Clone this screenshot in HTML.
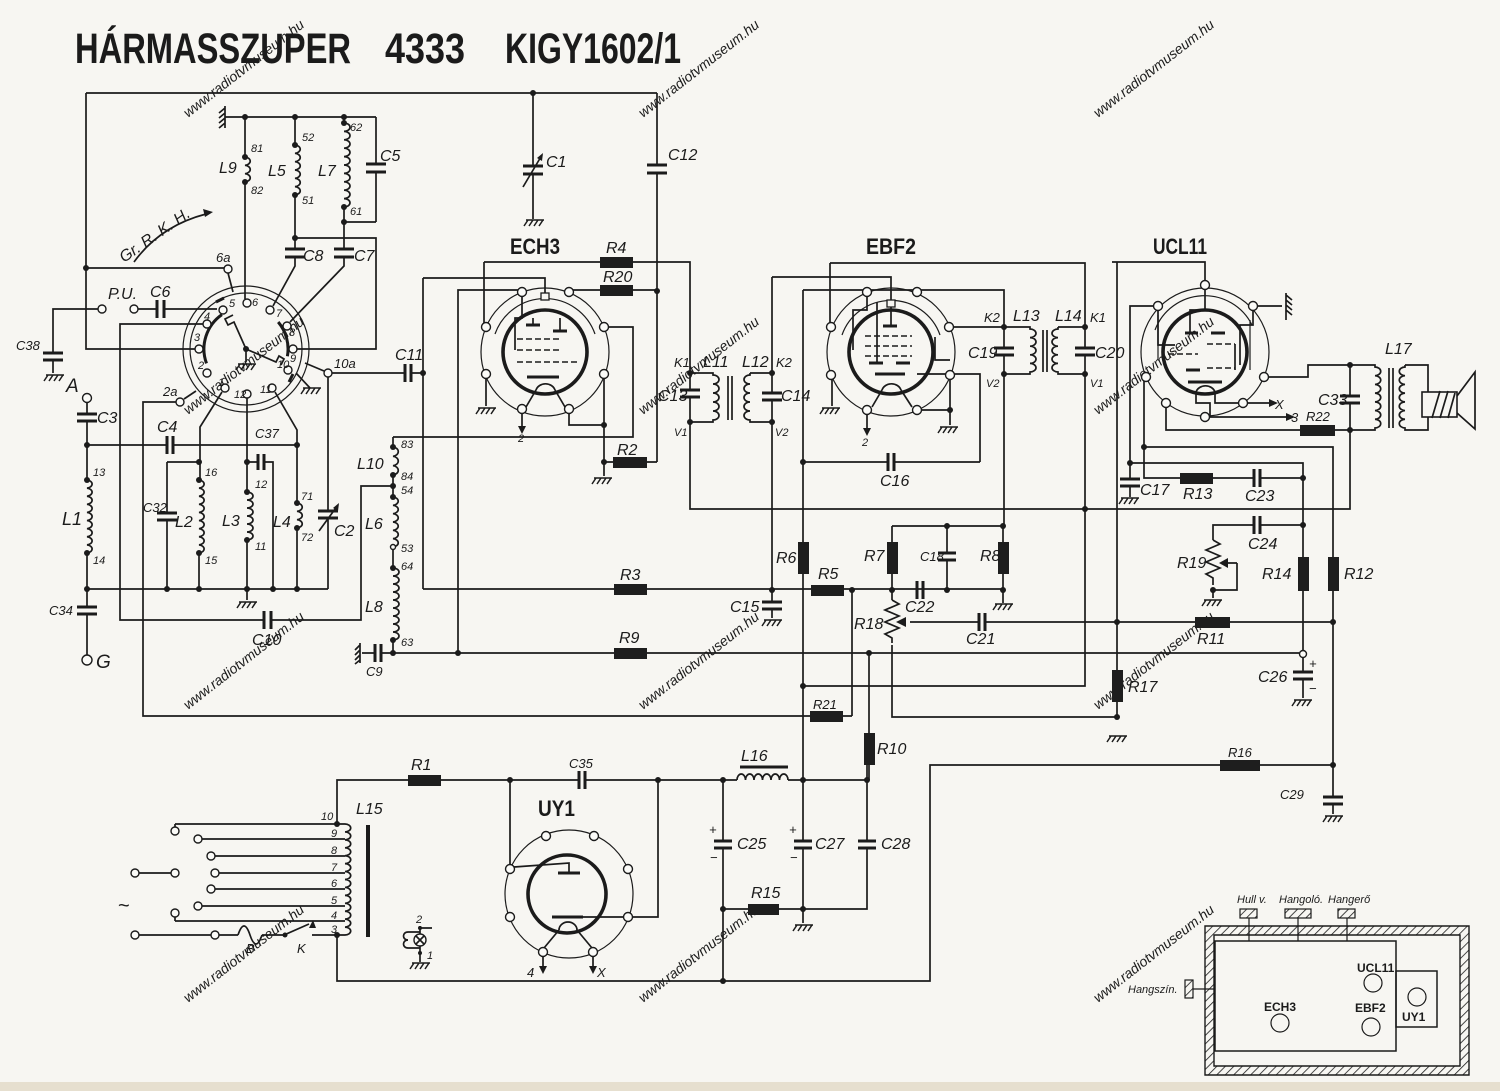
<!DOCTYPE html>
<html><head><meta charset="utf-8">
<style>
html,body{margin:0;padding:0;background:#f7f6f2}
svg{display:block}
.w{fill:none;stroke:#1b1b1b;stroke-width:1.7}
.p{fill:none;stroke:#1b1b1b;stroke-width:3}
.th{fill:none;stroke:#1b1b1b;stroke-width:1.2}
.env{fill:none;stroke:#1b1b1b;stroke-width:3.6}
.ds{fill:none;stroke:#1b1b1b;stroke-width:1.4;stroke-dasharray:6 3}
.d{fill:#1b1b1b}
.o{fill:#fbfbf8;stroke:#1b1b1b;stroke-width:1.4}
.r{fill:#1e1e1e}
text{font-family:"Liberation Sans",sans-serif;fill:#1b1b1b}
.l{font-style:italic;font-size:16px}
.m{font-style:italic;font-size:13px}
.s{font-style:italic;font-size:11px}
.tb{font-weight:bold;font-size:22px}
.wm{font-size:14px;fill:#e1e0dc;font-style:italic}
</style></head><body>
<svg width="1500" height="1091" viewBox="0 0 1500 1091" xmlns="http://www.w3.org/2000/svg">
<defs>
<path id="g" d="M-9,0H9M-7,0l-4,6M-2,0l-4,6M3,0l-4,6M8,0l-4,6" fill="none" stroke="#1b1b1b" stroke-width="1.5"/>
<pattern id="hatch" width="6" height="6" patternUnits="userSpaceOnUse" patternTransform="rotate(45)">
<rect width="6" height="6" fill="#f7f6f2"/><line x1="0" y1="0" x2="0" y2="6" stroke="#1b1b1b" stroke-width="1.6"/></pattern>
</defs>
<rect width="1500" height="1091" fill="#f7f6f2"/>
<rect y="1082" width="1500" height="9" fill="#e6dfcf"/>

<!-- watermarks -->
<g class="wm">
<text transform="translate(188,118) rotate(-38)">www.radiotvmuseum.hu</text>
<text transform="translate(643,118) rotate(-38)">www.radiotvmuseum.hu</text>
<text transform="translate(1098,118) rotate(-38)">www.radiotvmuseum.hu</text>
<text transform="translate(188,415) rotate(-38)">www.radiotvmuseum.hu</text>
<text transform="translate(643,415) rotate(-38)">www.radiotvmuseum.hu</text>
<text transform="translate(1098,415) rotate(-38)">www.radiotvmuseum.hu</text>
<text transform="translate(188,710) rotate(-38)">www.radiotvmuseum.hu</text>
<text transform="translate(643,710) rotate(-38)">www.radiotvmuseum.hu</text>
<text transform="translate(1098,710) rotate(-38)">www.radiotvmuseum.hu</text>
<text transform="translate(188,1003) rotate(-38)">www.radiotvmuseum.hu</text>
<text transform="translate(643,1003) rotate(-38)">www.radiotvmuseum.hu</text>
<text transform="translate(1098,1003) rotate(-38)">www.radiotvmuseum.hu</text>
</g>

<!-- title -->
<text x="75" y="63" font-size="43" font-weight="bold" textLength="276" lengthAdjust="spacingAndGlyphs">HÁRMASSZUPER</text>
<text x="385" y="63" font-size="43" font-weight="bold" textLength="80" lengthAdjust="spacingAndGlyphs">4333</text>
<text x="505" y="63" font-size="43" font-weight="bold" textLength="176" lengthAdjust="spacingAndGlyphs">KIGY1602/1</text>

<!-- ===== top frame & RF coils ===== -->
<path class="w" d="M86,93H657M86,93V349H195M86,268H224"/>
<circle class="d" cx="86" cy="268" r="3"/>
<circle class="d" cx="533" cy="93" r="3"/>
<!-- C1 -->
<path class="w" d="M533,93V166M533,174V219M523,187L542,155"/>
<path class="p" d="M523,166H543M523,174H543"/>
<path class="d" d="M543,153l-1,8l-5,-3z"/>
<use href="#g" x="535" y="220"/>
<text class="l" x="546" y="167">C1</text>
<!-- C12 -->
<path class="w" d="M657,93V165M657,173V462"/>
<path class="p" d="M647,165H667M647,173H667"/>
<text class="l" x="668" y="160">C12</text>
<circle class="d" cx="657" cy="291" r="3"/>
<!-- ground rail -->
<path class="w" d="M225,117H376M225,106V128M225,108l-6,5M225,113l-6,5M225,118l-6,5M225,123l-6,5"/>
<circle class="d" cx="245" cy="117" r="3"/><circle class="d" cx="295" cy="117" r="3"/><circle class="d" cx="344" cy="117" r="3"/>
<!-- L9 -->
<path class="w" d="M245,117V157a6,4.2 0 0 1 0,8.33a6,4.2 0 0 1 0,8.33a6,4.2 0 0 1 0,8.33V299"/>
<circle class="d" cx="245" cy="157" r="3"/><circle class="d" cx="245" cy="182" r="3"/>
<text class="l" x="219" y="173">L9</text><text class="s" x="251" y="152">81</text><text class="s" x="251" y="194">82</text>
<!-- L5 -->
<path class="w" d="M295,117V145a6,4.2 0 0 1 0,8.33a6,4.2 0 0 1 0,8.33a6,4.2 0 0 1 0,8.33a6,4.2 0 0 1 0,8.33a6,4.2 0 0 1 0,8.33a6,4.2 0 0 1 0,8.33V249M295,257V266L273,306"/>
<path class="p" d="M285,249H305M285,257H305"/>
<circle class="d" cx="295" cy="145" r="3"/><circle class="d" cx="295" cy="195" r="3"/>
<text class="l" x="268" y="176">L5</text><text class="s" x="302" y="141">52</text><text class="s" x="302" y="204">51</text>
<text class="l" x="303" y="261">C8</text>
<!-- L7 -->
<path class="w" d="M344,117V123a6,4.2 0 0 1 0,8.4a6,4.2 0 0 1 0,8.4a6,4.2 0 0 1 0,8.4a6,4.2 0 0 1 0,8.4a6,4.2 0 0 1 0,8.4a6,4.2 0 0 1 0,8.4a6,4.2 0 0 1 0,8.4a6,4.2 0 0 1 0,8.4a6,4.2 0 0 1 0,8.4a6,4.2 0 0 1 0,8.4V249M344,222H376M376,117V164M376,172V222M344,257V266L290,322"/>
<path class="p" d="M334,249H354M334,257H354M366,164H386M366,172H386"/>
<circle class="d" cx="344" cy="123" r="3"/><circle class="d" cx="344" cy="207" r="3"/><circle class="d" cx="344" cy="222" r="3"/>
<text class="l" x="318" y="176">L7</text><text class="s" x="350" y="131">62</text><text class="s" x="350" y="215">61</text>
<text class="l" x="380" y="161">C5</text><text class="l" x="354" y="261">C7</text>
<path class="w" d="M295,238H376V349H297"/>
<circle class="d" cx="295" cy="238" r="3"/>
<!-- Gr.R.K.H. -->
<path class="w" d="M134,262Q160,226 206,214"/>
<path class="d" d="M213,212l-10,-3l2,8z"/>
<text class="l" transform="translate(124,263) rotate(-35)">Gr. R. K. H.</text>

<!-- ===== wave switch ===== -->
<circle class="th" cx="246" cy="349" r="63"/>
<circle class="th" cx="246" cy="349" r="56"/>
<path class="p" d="M206.5,363.4A42,42 0 0 1 221.9,314.6M278.2,322A42,42 0 0 1 287.4,356.3"/>
<path class="w" d="M246,349L234,322l-6,3l-3,-6l8,-4M246,349L276,362l3,-6l5,3l-3,6M228,273L233,292M184,399L196,391M324,371L305,363"/>
<path class="p" d="M216,302l8,-4M293,374l-4,8"/>
<circle class="d" cx="246" cy="349" r="3"/>
<path class="w" d="M246,349V362"/><use href="#g" x="247" y="364"/>
<use href="#g" x="312" y="388"/><path class="w" d="M296,373L310,388"/>
<circle class="o" cx="223" cy="310" r="4"/><circle class="o" cx="247" cy="303" r="4"/><circle class="o" cx="270" cy="310" r="4"/>
<circle class="o" cx="287" cy="326" r="4"/><circle class="o" cx="293" cy="349" r="4"/><circle class="o" cx="288" cy="370" r="4"/>
<circle class="o" cx="272" cy="388" r="4"/><circle class="o" cx="247" cy="394" r="4"/><circle class="o" cx="225" cy="388" r="4"/>
<circle class="o" cx="207" cy="373" r="4"/><circle class="o" cx="199" cy="349" r="4"/><circle class="o" cx="207" cy="324" r="4"/>
<circle class="o" cx="228" cy="269" r="4"/><circle class="o" cx="180" cy="402" r="4"/><circle class="o" cx="328" cy="373" r="4"/>
<g class="s"><text x="229" y="307">5</text><text x="252" y="306">6</text><text x="276" y="317">7</text><text x="289" y="336">8</text>
<text x="290" y="362">9</text><text x="277" y="368">10</text><text x="260" y="393">11</text><text x="234" y="398">12</text>
<text x="218" y="386">1</text><text x="198" y="369">2</text><text x="194" y="341">3</text><text x="204" y="320">4</text></g>
<text class="m" x="216" y="262">6a</text><text class="m" x="163" y="396">2a</text><text class="m" x="334" y="368">10a</text>
<!-- P.U. / C6 / C38 -->
<circle class="o" cx="102" cy="309" r="4"/><circle class="o" cx="134" cy="309" r="4"/>
<path class="w" d="M138,309H157M164,309H217M98,309H53V353M53,360V373"/>
<path class="p" d="M157,300V318M164,300V318M43,353H63M43,360H63"/>
<use href="#g" x="55" y="375"/>
<text class="l" x="108" y="299">P.U.</text><text class="l" x="150" y="297">C6</text><text class="m" x="16" y="350">C38</text>
<!-- pin wiring -->
<path class="w" d="M203,324H120V620H264M271,620H361V486H393M176,402H143V716H810M222,392L200,427V480M247,398V492M275,392L297,430V503"/>
<path class="p" d="M264,611V629M271,611V629"/>
<text class="l" x="252" y="645">C10</text>

<!-- ===== tuning section ===== -->
<circle class="o" cx="87" cy="398" r="4.5"/>
<path class="w" d="M87,402V414M87,421V480a6,4.1 0 0 1 0,8.11a6,4.1 0 0 1 0,8.11a6,4.1 0 0 1 0,8.11a6,4.1 0 0 1 0,8.11a6,4.1 0 0 1 0,8.11a6,4.1 0 0 1 0,8.11a6,4.1 0 0 1 0,8.11a6,4.1 0 0 1 0,8.11a6,4.1 0 0 1 0,8.11V607M87,614V655"/>
<path class="p" d="M77,414H97M77,421H97M77,607H97M77,614H97"/>
<circle class="o" cx="87" cy="660" r="5"/>
<circle class="d" cx="87" cy="480" r="3"/><circle class="d" cx="87" cy="553" r="3"/>
<path class="w" d="M87,445H167M173,445H297M87,589H328"/>
<path class="p" d="M167,436V454M173,436V454"/>
<circle class="d" cx="87" cy="445" r="3"/><circle class="d" cx="297" cy="445" r="3"/>
<!-- L2 / C32 -->
<path class="w" d="M199,480a6,4.1 0 0 1 0,8.11a6,4.1 0 0 1 0,8.11a6,4.1 0 0 1 0,8.11a6,4.1 0 0 1 0,8.11a6,4.1 0 0 1 0,8.11a6,4.1 0 0 1 0,8.11a6,4.1 0 0 1 0,8.11a6,4.1 0 0 1 0,8.11a6,4.1 0 0 1 0,8.11V589M167,462H199M167,462V513M167,520V589"/>
<path class="p" d="M157,513H177M157,520H177"/>
<circle class="d" cx="199" cy="462" r="3"/><circle class="d" cx="199" cy="480" r="3"/><circle class="d" cx="199" cy="553" r="3"/>
<!-- L3 / C37 -->
<path class="w" d="M247,492a6,4 0 0 1 0,8a6,4 0 0 1 0,8a6,4 0 0 1 0,8a6,4 0 0 1 0,8a6,4 0 0 1 0,8a6,4 0 0 1 0,8V600M247,462H258M264,462H273V589"/>
<path class="p" d="M258,454V470M264,454V470"/>
<circle class="d" cx="247" cy="462" r="3"/><circle class="d" cx="247" cy="492" r="3"/><circle class="d" cx="247" cy="540" r="3"/>
<use href="#g" x="248" y="602"/>
<!-- L4 -->
<path class="w" d="M297,503a6,4.2 0 0 1 0,8.33a6,4.2 0 0 1 0,8.33a6,4.2 0 0 1 0,8.33V589"/>
<circle class="d" cx="297" cy="503" r="3"/><circle class="d" cx="297" cy="528" r="3"/>
<!-- C2 -->
<path class="w" d="M328,377V511M328,518V589M319,531L338,505"/>
<path class="p" d="M318,511H338M318,518H338"/>
<path class="d" d="M339,503l-1,8l-5,-3z"/>
<g><circle class="d" cx="87" cy="589" r="3"/><circle class="d" cx="167" cy="589" r="3"/><circle class="d" cx="199" cy="589" r="3"/><circle class="d" cx="247" cy="589" r="3"/><circle class="d" cx="273" cy="589" r="3"/><circle class="d" cx="297" cy="589" r="3"/></g>
<text x="66" y="392" font-size="19" font-style="italic">A</text><text class="l" x="97" y="423">C3</text><text class="l" x="157" y="432">C4</text>
<text class="m" x="255" y="438">C37</text><text x="62" y="525" font-size="18" font-style="italic">L1</text><text class="s" x="93" y="476">13</text><text class="s" x="93" y="564">14</text>
<text class="m" x="143" y="512">C32</text><text class="l" x="175" y="527">L2</text><text class="s" x="205" y="476">16</text><text class="s" x="205" y="564">15</text>
<text class="l" x="222" y="526">L3</text><text class="s" x="255" y="488">12</text><text class="s" x="255" y="550">11</text>
<text class="l" x="273" y="527">L4</text><text class="s" x="301" y="500">71</text><text class="s" x="301" y="541">72</text>
<text class="l" x="334" y="536">C2</text><text class="m" x="49" y="615">C34</text><text x="96" y="668" font-size="19" font-style="italic">G</text>

<!-- ===== oscillator coil chain ===== -->
<path class="w" d="M393,437V447a6,4.7 0 0 1 0,9.33a6,4.7 0 0 1 0,9.33a6,4.7 0 0 1 0,9.33V497a6,4.2 0 0 1 0,8.33a6,4.2 0 0 1 0,8.33a6,4.2 0 0 1 0,8.33a6,4.2 0 0 1 0,8.33a6,4.2 0 0 1 0,8.33a6,4.2 0 0 1 0,8.33V568a6,4 0 0 1 0,8a6,4 0 0 1 0,8a6,4 0 0 1 0,8a6,4 0 0 1 0,8a6,4 0 0 1 0,8a6,4 0 0 1 0,8a6,4 0 0 1 0,8a6,4 0 0 1 0,8a6,4 0 0 1 0,8V653"/>
<path class="w" d="M393,437H633V327H608M393,653H381M375,653H362M360,643V663M360,645l-5,5M360,650l-5,5M360,655l-5,5M360,660l-5,4"/>
<path class="p" d="M381,644V662M375,644V662"/>
<g><circle class="d" cx="393" cy="447" r="3"/><circle class="d" cx="393" cy="475" r="3"/><circle class="d" cx="393" cy="486" r="3"/><circle class="d" cx="393" cy="497" r="3"/><circle class="o" cx="393" cy="547" r="2.5"/><circle class="d" cx="393" cy="568" r="3"/><circle class="d" cx="393" cy="640" r="3"/><circle class="d" cx="393" cy="653" r="3"/></g>
<text class="l" x="357" y="469">L10</text><text class="l" x="365" y="529">L6</text><text class="l" x="365" y="612">L8</text><text class="m" x="366" y="676">C9</text>
<g class="s"><text x="401" y="448">83</text><text x="401" y="480">84</text><text x="401" y="494">54</text><text x="401" y="552">53</text><text x="401" y="570">64</text><text x="401" y="646">63</text></g>

<!-- ===== C11 / ECH3 ===== -->
<path class="w" d="M332,373H405M411,373H423M423,278V589M423,278H545V293M423,589H614M647,589H1003M458,653V290H518M393,653H614M647,653H1299"/>
<path class="p" d="M405,364V382M411,364V382"/>
<circle class="d" cx="423" cy="373" r="3"/><circle class="d" cx="458" cy="653" r="3"/>
<rect class="r" x="614" y="584" width="33" height="11"/><rect class="r" x="614" y="648" width="33" height="11"/>
<text class="l" x="395" y="360">C11</text><text class="l" x="620" y="580">R3</text><text class="l" x="619" y="643">R9</text>
<!-- ECH3 tube -->
<circle class="th" cx="545" cy="352" r="64"/>
<circle class="env" cx="545" cy="352" r="42"/>
<path class="th" d="M495,334A53,53 0 0 1 595,334"/>
<path class="w" d="M526,407L536,390M565,407L555,390M536,390A10,9 0 0 1 555,390"/>
<path class="p" d="M526,325H540M553,331H567M527,377H559"/>
<path class="ds" d="M517,339H562M517,350H562M517,362H578"/>
<path class="w" d="M522,296V318H515V350M533,318V325M560,318V331"/>
<rect x="541" y="293" width="8" height="7" fill="#f7f6f2" stroke="#1b1b1b" stroke-width="1.3"/>
<path class="w" d="M484,262V323M484,262H600M633,262H690V373M573,290H600M633,290H657M486,378V406M569,413V425H604M604,378V462H613M647,462H657M604,462V476M522,413V428"/>
<path class="d" d="M518,426h8l-4,8z"/>
<rect class="r" x="600" y="257" width="33" height="11"/><rect class="r" x="600" y="285" width="33" height="11"/><rect class="r" x="613" y="457" width="34" height="11"/>
<circle class="d" cx="604" cy="425" r="3"/><circle class="d" cx="604" cy="462" r="3"/>
<use href="#g" x="487" y="408"/><use href="#g" x="603" y="478"/>
<g><circle class="o" cx="522" cy="292" r="4.5"/><circle class="o" cx="569" cy="292" r="4.5"/><circle class="o" cx="486" cy="327" r="4.5"/><circle class="o" cx="604" cy="327" r="4.5"/><circle class="o" cx="486" cy="374" r="4.5"/><circle class="o" cx="604" cy="374" r="4.5"/><circle class="o" cx="522" cy="409" r="4.5"/><circle class="o" cx="569" cy="409" r="4.5"/></g>
<text class="tb" x="510" y="254" textLength="50" lengthAdjust="spacingAndGlyphs">ECH3</text>
<text class="l" x="606" y="253">R4</text><text class="l" x="603" y="282">R20</text><text class="l" x="617" y="455">R2</text><text class="s" x="518" y="442">2</text>

<!-- ===== L11/L12 ===== -->
<path class="w" d="M690,373V390M690,397V509H1350V430M690,373H713V375a6,4.5 0 0 1 0,9a6,4.5 0 0 1 0,9a6,4.5 0 0 1 0,9a6,4.5 0 0 1 0,9a6,4.5 0 0 1 0,9V422H690"/>
<path class="w" d="M772,277V393M772,400V590M750,373H772M750,373V375a6,4.5 0 0 0 0,9a6,4.5 0 0 0 0,9a6,4.5 0 0 0 0,9a6,4.5 0 0 0 0,9a6,4.5 0 0 0 0,9V422H772M772,277H891V300"/>
<path class="p" d="M680,390H700M680,397H700M762,393H782M762,400H782"/>
<path class="w" d="M728,376V420M732,376V420"/>
<circle class="d" cx="690" cy="373" r="3"/><circle class="d" cx="690" cy="422" r="3"/><circle class="d" cx="772" cy="373" r="3"/><circle class="d" cx="772" cy="422" r="3"/>
<text class="m" x="674" y="367">K1</text><text class="l" x="703" y="367">L11</text><text class="l" x="742" y="367">L12</text><text class="m" x="776" y="367">K2</text>
<text class="l" x="658" y="401">C13</text><text class="l" x="781" y="401">C14</text><text class="s" x="674" y="436">V1</text><text class="s" x="775" y="436">V2</text>

<!-- ===== EBF2 ===== -->
<circle class="th" cx="891" cy="352" r="64"/>
<circle class="env" cx="891" cy="352" r="42"/>
<path class="th" d="M842,335A52,52 0 0 1 940,335"/>
<path class="w" d="M872,407L882,390M912,407L901,390M882,390A10,9 0 0 1 901,390"/>
<path class="p" d="M883,326H897M869,363H883M896,363H910M875,374H905"/>
<path class="ds" d="M865,336H912M865,346H912M865,356H912"/>
<path class="w" d="M891,300V326M877,302V363M867,296V310H853V350M935,337V360H950"/>
<rect x="887" y="300" width="8" height="7" fill="#f7f6f2" stroke="#1b1b1b" stroke-width="1.3"/>
<path class="w" d="M803,290H1004V327M830,263H1085V327M830,263V323M953,327H1004M1004,327V348M1004,355V526M917,374H980V462M894,462H980M803,290V780M803,462H888M832,378V406M867,415V430M921,410H950M950,378V425"/>
<path class="p" d="M888,453V471M894,453V471M994,348H1014M994,355H1014M1075,348H1095M1075,355H1095"/>
<path class="d" d="M863,428h8l-4,8z"/>
<circle class="d" cx="803" cy="462" r="3"/><circle class="d" cx="950" cy="410" r="3"/>
<use href="#g" x="831" y="408"/><use href="#g" x="949" y="427"/>
<g><circle class="o" cx="867" cy="292" r="4.5"/><circle class="o" cx="917" cy="292" r="4.5"/><circle class="o" cx="831" cy="327" r="4.5"/><circle class="o" cx="949" cy="327" r="4.5"/><circle class="o" cx="831" cy="375" r="4.5"/><circle class="o" cx="950" cy="375" r="4.5"/><circle class="o" cx="867" cy="410" r="4.5"/><circle class="o" cx="917" cy="410" r="4.5"/></g>
<text class="tb" x="866" y="254" textLength="50" lengthAdjust="spacingAndGlyphs">EBF2</text>
<text class="s" x="862" y="446">2</text><text class="l" x="880" y="486">C16</text>
<!-- L13/L14 -->
<path class="w" d="M1004,327H1030V329a6,4.3 0 0 1 0,8.6a6,4.3 0 0 1 0,8.6a6,4.3 0 0 1 0,8.6a6,4.3 0 0 1 0,8.6a6,4.3 0 0 1 0,8.6V374H1004M1058,327H1085M1058,327V329a6,4.3 0 0 0 0,8.6a6,4.3 0 0 0 0,8.6a6,4.3 0 0 0 0,8.6a6,4.3 0 0 0 0,8.6a6,4.3 0 0 0 0,8.6V374H1085M1085,327V348M1085,355V686H803M1043,330V372M1047,330V372"/>
<circle class="d" cx="1004" cy="327" r="3"/><circle class="d" cx="1004" cy="374" r="3"/><circle class="d" cx="1085" cy="327" r="3"/><circle class="d" cx="1085" cy="374" r="3"/><circle class="d" cx="1085" cy="509" r="3"/><circle class="d" cx="803" cy="686" r="3"/>
<text class="m" x="984" y="322">K2</text><text class="l" x="1013" y="321">L13</text><text class="l" x="1055" y="321">L14</text><text class="m" x="1090" y="322">K1</text>
<text class="l" x="968" y="358">C19</text><text class="l" x="1095" y="358">C20</text><text class="s" x="986" y="387">V2</text><text class="s" x="1090" y="387">V1</text>

<!-- ===== detector / AF network ===== -->
<rect class="r" x="798" y="542" width="11" height="32"/>
<rect class="r" x="811" y="585" width="33" height="11"/>
<path class="w" d="M852,590V716M843,716H852M892,526V600M892,526H1003M947,526V553M947,560V590M1003,526V603M892,645V717H1117M910,622H979M985,622H1195M1230,622H1333M869,653V733M869,765V780M772,590V602M772,609V618"/>
<path class="w" d="M892,600l7,4l-14,6l14,6l-14,6l14,6l-14,6l7,4v5"/>
<path class="d" d="M896,622l10,-5v10z"/>
<path class="p" d="M917,581V599M923,581V599M938,553H956M938,560H956M979,613V631M985,613V631M762,602H782M762,609H782"/>
<rect class="r" x="887" y="542" width="11" height="32"/><rect class="r" x="998" y="542" width="11" height="32"/>
<rect class="r" x="810" y="711" width="33" height="11"/><rect class="r" x="864" y="733" width="11" height="32"/>
<rect class="r" x="1195" y="617" width="35" height="11"/>
<g><circle class="d" cx="772" cy="590" r="3"/><circle class="d" cx="852" cy="590" r="3"/><circle class="d" cx="892" cy="590" r="3"/><circle class="d" cx="947" cy="590" r="3"/><circle class="d" cx="1003" cy="590" r="3"/><circle class="d" cx="947" cy="526" r="3"/><circle class="d" cx="1003" cy="526" r="3"/><circle class="d" cx="869" cy="653" r="3"/><circle class="d" cx="1117" cy="622" r="3"/><circle class="d" cx="1333" cy="622" r="3"/><circle class="d" cx="1117" cy="717" r="3"/></g>
<use href="#g" x="1004" y="604"/><use href="#g" x="773" y="620"/>
<text class="l" x="776" y="563">R6</text><text class="l" x="818" y="579">R5</text><text class="l" x="864" y="561">R7</text><text class="m" x="920" y="561">C18</text>
<text class="l" x="980" y="561">R8</text><text class="l" x="730" y="612">C15</text><text class="l" x="905" y="612">C22</text><text class="l" x="854" y="629">R18</text>
<text class="l" x="966" y="644">C21</text><text class="m" x="813" y="709">R21</text><text class="l" x="877" y="754">R10</text>

<!-- ===== UCL11 ===== -->
<circle class="th" cx="1205" cy="352" r="64"/>
<circle class="env" cx="1205" cy="352" r="42"/>
<path class="th" d="M1155,330A53,53 0 0 1 1252,325M1158,360V315M1250,370V320"/>
<path class="w" d="M1196,392A10,9 0 0 1 1215,392M1196,392V403H1210V417M1215,392V403H1247"/>
<path class="p" d="M1185,333H1198M1211,333H1225M1186,370H1200M1188,382H1222"/>
<path class="ds" d="M1168,354H1198M1207,344H1235M1207,368H1235"/>
<path class="w" d="M1205,289V310H1190V333M1158,306V345H1175M1235,344V370M1253,310V325H1240V365"/>
<path class="w" d="M1205,281V262H1117V717M1257,306H1282M1286,293V320M1286,295l6,5M1286,300l6,5M1286,305l6,5M1286,310l6,5M1154,306H1130V479M1130,486V497M1144,381V478H1180M1212,478H1254M1260,478H1303M1144,447H1333V557M1130,463H1303V557M1303,591V650M1303,658V672M1303,679V698M1333,591V797M1333,804V814M1213,540V525H1254M1260,525H1303M1268,377H1308V365H1350M1350,365V396M1350,403V430M1166,407V430H1300M1335,430H1350M1247,403H1270M1209,417H1287M1112,262H1117"/>
<path class="w" d="M1213,540l7,4l-14,6l14,6l-14,6l14,6l-14,6l7,4v7M1237,563V590H1213M1237,563H1226M1213,590V598"/>
<path class="d" d="M1219,563l9,-5v10zM1278,403l-9,-4v8zM1295,417l-9,-4v8z"/>
<path class="p" d="M1120,479H1140M1120,486H1140M1254,469V487M1260,469V487M1254,516V534M1260,516V534M1293,672H1313M1293,679H1313M1323,797H1343M1323,804H1343M1340,396H1360M1340,403H1360"/>
<rect class="r" x="1112" y="670" width="11" height="32"/>
<rect class="r" x="1180" y="473" width="33" height="11"/>
<rect class="r" x="1298" y="557" width="11" height="34"/><rect class="r" x="1328" y="557" width="11" height="34"/>
<rect class="r" x="1300" y="425" width="35" height="11"/>
<circle class="o" cx="1303" cy="654" r="3.5"/>
<g><circle class="d" cx="1130" cy="463" r="3"/><circle class="d" cx="1144" cy="447" r="3"/><circle class="d" cx="1303" cy="478" r="3"/><circle class="d" cx="1303" cy="525" r="3"/><circle class="d" cx="1213" cy="590" r="3"/><circle class="d" cx="1350" cy="365" r="3"/><circle class="d" cx="1350" cy="430" r="3"/><circle class="d" cx="1333" cy="765" r="3"/></g>
<use href="#g" x="1130" y="498"/><use href="#g" x="1213" y="600"/><use href="#g" x="1303" y="700"/><use href="#g" x="1118" y="736"/><use href="#g" x="1334" y="816"/>
<g><circle class="o" cx="1205" cy="285" r="4.5"/><circle class="o" cx="1158" cy="306" r="4.5"/><circle class="o" cx="1253" cy="306" r="4.5"/><circle class="o" cx="1146" cy="377" r="4.5"/><circle class="o" cx="1264" cy="377" r="4.5"/><circle class="o" cx="1166" cy="403" r="4.5"/><circle class="o" cx="1243" cy="403" r="4.5"/><circle class="o" cx="1205" cy="417" r="4.5"/></g>
<text class="tb" x="1153" y="254" textLength="54" lengthAdjust="spacingAndGlyphs">UCL11</text>
<text class="m" x="1275" y="409">X</text><text class="m" x="1291" y="422">3</text><text class="m" x="1306" y="421">R22</text>
<text class="l" x="1140" y="495">C17</text><text class="l" x="1183" y="499">R13</text><text class="l" x="1245" y="501">C23</text><text class="l" x="1248" y="549">C24</text>
<text class="l" x="1177" y="568">R19</text><text class="l" x="1262" y="579">R14</text><text class="l" x="1344" y="579">R12</text><text class="l" x="1197" y="644">R11</text>
<text class="l" x="1128" y="692">R17</text><text class="l" x="1258" y="682">C26</text><text class="m" x="1309" y="668">+</text><text class="m" x="1309" y="693">−</text>
<text class="m" x="1280" y="799">C29</text><text class="m" x="1228" y="757">R16</text>
<!-- L17 / speaker -->
<path class="w" d="M1350,365H1375V367a6,4.36 0 0 1 0,8.71a6,4.36 0 0 1 0,8.71a6,4.36 0 0 1 0,8.71a6,4.36 0 0 1 0,8.71a6,4.36 0 0 1 0,8.71a6,4.36 0 0 1 0,8.71a6,4.36 0 0 1 0,8.71V430H1350M1405,365V367a6,4.36 0 0 0 0,8.71a6,4.36 0 0 0 0,8.71a6,4.36 0 0 0 0,8.71a6,4.36 0 0 0 0,8.71a6,4.36 0 0 0 0,8.71a6,4.36 0 0 0 0,8.71a6,4.36 0 0 0 0,8.71V430H1428V417M1405,365H1428V392M1389,368V428M1393,368V428"/>
<rect x="1422" y="392" width="35" height="25" fill="none" stroke="#1b1b1b" stroke-width="1.6"/>
<path class="w" d="M1432,418L1440,391M1440,418L1448,391M1448,418L1455,393M1457,396L1475,372V429L1457,413"/>
<text class="l" x="1385" y="354">L17</text><text class="l" x="1318" y="405">C33</text>

<!-- ===== power supply ===== -->
<path class="w" d="M337,935V981H930V765H1220M1260,765H1333M337,824V780H408M441,780H579M585,780H737M788,780H867V765"/>
<path class="w" d="M737,780a4.25,6 0 0 1 8.5,0a4.25,6 0 0 1 8.5,0a4.25,6 0 0 1 8.5,0a4.25,6 0 0 1 8.5,0a4.25,6 0 0 1 8.5,0a4.25,6 0 0 1 8.5,0"/>
<path class="p" d="M740,767H788M579,771V789M585,771V789M714,841H732M714,848H732M794,841H812M794,848H812M858,841H876M858,848H876"/>
<rect class="r" x="408" y="775" width="33" height="11"/><rect class="r" x="1220" y="760" width="40" height="11"/>
<rect class="r" x="748" y="904" width="31" height="11"/>
<path class="w" d="M723,780V841M723,848V981M723,909H748M778,909H867V848M867,841V780M803,780V841M803,848V923"/>
<g><circle class="d" cx="510" cy="780" r="3"/><circle class="d" cx="658" cy="780" r="3"/><circle class="d" cx="723" cy="780" r="3"/><circle class="d" cx="803" cy="780" r="3"/><circle class="d" cx="867" cy="780" r="3"/><circle class="d" cx="723" cy="909" r="3"/><circle class="d" cx="803" cy="909" r="3"/><circle class="d" cx="723" cy="981" r="3"/><circle class="d" cx="337" cy="824" r="3"/><circle class="d" cx="337" cy="935" r="3"/></g>
<use href="#g" x="804" y="925"/>
<text class="l" x="411" y="770">R1</text><text class="m" x="569" y="768">C35</text><text class="l" x="741" y="761">L16</text>
<text class="m" x="709" y="834">+</text><text class="m" x="710" y="862">−</text><text class="m" x="789" y="834">+</text><text class="m" x="790" y="862">−</text>
<text class="l" x="737" y="849">C25</text><text class="l" x="815" y="849">C27</text><text class="l" x="881" y="849">C28</text><text class="l" x="751" y="898">R15</text>
<!-- UY1 -->
<circle class="th" cx="569" cy="894" r="64"/>
<circle class="env" cx="567" cy="894" r="39"/>
<path class="w" d="M510,780V865M514,867L569,863V872M544,948L559,930M592,948L577,930M559,930A9,8 0 0 1 577,930M583,917H624M632,917H658V780"/>
<path class="p" d="M558,873H580M552,917H583"/>
<path class="w" d="M543,956V968M593,956V968"/>
<path class="d" d="M539,966h8l-4,8zM589,966h8l-4,8z"/>
<g><circle class="o" cx="546" cy="836" r="4.5"/><circle class="o" cx="594" cy="836" r="4.5"/><circle class="o" cx="510" cy="869" r="4.5"/><circle class="o" cx="628" cy="869" r="4.5"/><circle class="o" cx="510" cy="917" r="4.5"/><circle class="o" cx="628" cy="917" r="4.5"/><circle class="o" cx="543" cy="952" r="4.5"/><circle class="o" cx="593" cy="952" r="4.5"/></g>
<text class="tb" x="538" y="816" font-size="20" textLength="37" lengthAdjust="spacingAndGlyphs">UY1</text>
<text class="m" x="527" y="977">4</text><text class="m" x="597" y="977">X</text>
<!-- L15 transformer -->
<path class="w" d="M337,824H345V824a6,3.97 0 0 1 0,7.93a6,3.97 0 0 1 0,7.93a6,3.97 0 0 1 0,7.93a6,3.97 0 0 1 0,7.93a6,3.97 0 0 1 0,7.93a6,3.97 0 0 1 0,7.93a6,3.97 0 0 1 0,7.93a6,3.97 0 0 1 0,7.93a6,3.97 0 0 1 0,7.93a6,3.97 0 0 1 0,7.93a6,3.97 0 0 1 0,7.93a6,3.97 0 0 1 0,7.93a6,3.97 0 0 1 0,7.93a6,3.97 0 0 1 0,7.93H337"/>
<path class="p" d="M368,825V937" style="stroke-width:4"/>
<path class="w" d="M175,824H337M175,824V827M202,839H345M215,856H345M219,873H345M215,889H345M202,906H345M175,921H345M175,921V917M139,873H171M139,935H211M219,935H238M238,935c4,-12 8,-12 12,0s8,12 12,0M262,935H284L309,924M312,935H337"/>
<path class="d" d="M309,928l4,-8l3,8z"/>
<circle class="d" cx="285" cy="935" r="2.5"/>
<g><circle class="o" cx="175" cy="831" r="4"/><circle class="o" cx="198" cy="839" r="4"/><circle class="o" cx="211" cy="856" r="4"/><circle class="o" cx="215" cy="873" r="4"/><circle class="o" cx="211" cy="889" r="4"/><circle class="o" cx="198" cy="906" r="4"/><circle class="o" cx="175" cy="913" r="4"/><circle class="o" cx="135" cy="873" r="4"/><circle class="o" cx="175" cy="873" r="4"/><circle class="o" cx="135" cy="935" r="4"/><circle class="o" cx="215" cy="935" r="4"/></g>
<text x="118" y="912" font-size="20">~</text>
<text class="l" x="356" y="814">L15</text>
<g class="s"><text x="321" y="820">10</text><text x="331" y="837">9</text><text x="331" y="854">8</text><text x="331" y="871">7</text><text x="331" y="887">6</text><text x="331" y="904">5</text><text x="331" y="919">4</text><text x="331" y="933">3</text></g>
<text class="m" x="246" y="953">B</text><text class="m" x="297" y="953">K</text>
<!-- pilot lamp -->
<circle class="o" cx="420" cy="940" r="6"/>
<path class="w" d="M416,936l8,8M424,936l-8,8M420,926V934M420,946V962M420,928H432M408,932c-6,0 -6,8 0,8c-6,0 -6,8 0,8M408,932H420M408,948H420"/>
<circle class="d" cx="420" cy="928" r="2"/><circle class="d" cx="420" cy="953" r="2"/>
<use href="#g" x="421" y="963"/>
<text class="s" x="416" y="923">2</text><text class="s" x="427" y="959">1</text>

<!-- ===== chassis layout ===== -->
<path d="M1205,926H1469V1075H1205Z M1214,935V1066H1460V935Z" fill="url(#hatch)" fill-rule="evenodd" stroke="#1b1b1b" stroke-width="1.4"/>
<rect x="1215" y="941" width="181" height="110" fill="none" stroke="#1b1b1b" stroke-width="1.5"/>
<rect x="1396" y="971" width="41" height="56" fill="none" stroke="#1b1b1b" stroke-width="1.5"/>
<rect x="1240" y="909" width="17" height="9" fill="url(#hatch)" stroke="#1b1b1b" stroke-width="1.2"/>
<rect x="1285" y="909" width="26" height="9" fill="url(#hatch)" stroke="#1b1b1b" stroke-width="1.2"/>
<rect x="1338" y="909" width="17" height="9" fill="url(#hatch)" stroke="#1b1b1b" stroke-width="1.2"/>
<rect x="1185" y="980" width="8" height="18" fill="url(#hatch)" stroke="#1b1b1b" stroke-width="1.2"/>
<path class="th" d="M1249,918V941M1298,918V941M1347,918V941M1193,989H1215"/>
<circle class="th" cx="1280" cy="1023" r="9"/><circle class="th" cx="1373" cy="983" r="9"/><circle class="th" cx="1371" cy="1027" r="9"/><circle class="th" cx="1417" cy="997" r="9"/>
<g font-style="italic" font-size="11"><text x="1237" y="903">Hull v.</text><text x="1279" y="903">Hangoló.</text><text x="1328" y="903">Hangerő</text><text x="1128" y="993">Hangszín.</text></g>
<g font-weight="bold" font-size="12"><text x="1264" y="1011">ECH3</text><text x="1357" y="972">UCL11</text><text x="1355" y="1012">EBF2</text><text x="1402" y="1021">UY1</text></g>
</svg>
</body></html>
